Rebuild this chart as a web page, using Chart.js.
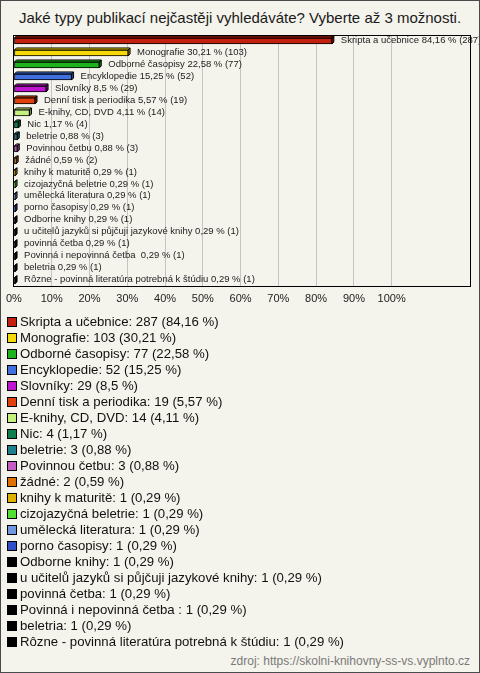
<!DOCTYPE html>
<html><head><meta charset="utf-8">
<script src="https://cdn.jsdelivr.net/npm/chart.js@4/dist/chart.umd.min.js"></script>
<style>
html,body{margin:0;padding:0;background:#f4f3ec;}
body{position:relative;width:480px;height:673px;overflow:hidden;font-family:Arial,"Liberation Sans",sans-serif;}
#border{position:absolute;left:0;top:0;width:480px;height:673px;box-sizing:border-box;border:1px solid #4a4a4a;pointer-events:none;}
#title{position:absolute;left:0;top:9px;width:480px;text-align:center;font-size:15px;color:#1a1a1a;white-space:nowrap;}
#cv{position:absolute;left:0;top:0;}
#legend{position:absolute;left:7px;top:314px;font-size:13.2px;color:#111;}
.li{height:16px;line-height:16px;white-space:nowrap;display:flex;align-items:center;}
.sw{width:8px;height:8px;border:1px solid #000;margin-right:3px;flex:none;}
#src{position:absolute;right:10px;top:654px;font-size:12px;color:#7a7a7a;white-space:nowrap;}
</style></head>
<body>
<div id="title">Jaké typy publikací nejčastěji vyhledáváte? Vyberte až 3 možnosti.</div>
<canvas id="cv" width="480" height="316"></canvas>
<div id="legend"></div>
<div id="src">zdroj: https://skolni-knihovny-ss-vs.vyplnto.cz</div>
<div id="border"></div>
<script>
const categories = [
  "Skripta a učebnice",
  "Monografie",
  "Odborné časopisy",
  "Encyklopedie",
  "Slovníky",
  "Denní tisk a periodika",
  "E-knihy, CD, DVD",
  "Nic",
  "beletrie",
  "Povinnou četbu",
  "žádné",
  "knihy k maturitě",
  "cizojazyčná beletrie",
  "umělecká literatura",
  "porno časopisy",
  "Odborne knihy",
  "u učitelů jazyků si půjčuji jazykové knihy",
  "povinná četba",
  "Povinná i nepovinná četba ",
  "beletria",
  "Rôzne - povinná literatúra potrebná k štúdiu"
];
const counts = [287,103,77,52,29,19,14,4,3,3,2,1,1,1,1,1,1,1,1,1,1];
const percents = [84.16,30.21,22.58,15.25,8.5,5.57,4.11,1.17,0.88,0.88,0.59,0.29,0.29,0.29,0.29,0.29,0.29,0.29,0.29,0.29,0.29];
const colors = ["#c3200f","#f7d90a","#1fb21f","#4070e0","#c014d0","#e0400e","#c4f07e","#0e7f4c","#1f7f8f","#c45ec4","#e07000","#e0b000","#52e032","#7098e0","#3050c8","#000000","#000000","#000000","#000000","#000000","#000000"];
const xTickMax = 100;
const xTickStep = 10;

const fmt = v => String(v).replace('.', ',');

function darken(hex, f){
  const n = parseInt(hex.slice(1),16);
  const r = Math.round(((n>>16)&255)*f), g = Math.round(((n>>8)&255)*f), b = Math.round((n&255)*f);
  return `rgb(${r},${g},${b})`;
}

const deco = {
  id:'deco',
  beforeDatasetsDraw(chart){
    const ctx = chart.ctx;
    const meta = chart.getDatasetMeta(0);
    const d = 2;
    ctx.save();
    ctx.lineWidth = 1;
    ctx.strokeStyle = '#000';
    meta.data.forEach((bar,i)=>{
      const x0 = bar.base, x1 = bar.x, h = bar.height;
      const top = bar.y - h/2, bot = bar.y + h/2;
      ctx.beginPath();
      ctx.moveTo(x0, top); ctx.lineTo(x0+d, top-d); ctx.lineTo(x1+d, top-d); ctx.lineTo(x1, top); ctx.closePath();
      ctx.fillStyle = colors[i]; ctx.fill(); ctx.stroke();
      ctx.beginPath();
      ctx.moveTo(x1, top); ctx.lineTo(x1+d, top-d); ctx.lineTo(x1+d, bot-d); ctx.lineTo(x1, bot); ctx.closePath();
      ctx.fillStyle = darken(colors[i], 0.6); ctx.fill(); ctx.stroke();
    });
    ctx.restore();
  },
  afterDatasetsDraw(chart){
    const ctx = chart.ctx, a = chart.chartArea;
    const meta = chart.getDatasetMeta(0);
    ctx.save();
    ctx.font = '9.5px Arial, "Liberation Sans", sans-serif';
    ctx.fillStyle = '#222';
    ctx.textBaseline = 'middle';
    meta.data.forEach((bar,i)=>{
      const txt = `${categories[i]} ${fmt(percents[i])} % (${counts[i]})`;
      ctx.fillText(txt, bar.x + 9, bar.y - 1);
    });
    ctx.strokeStyle = '#000';
    ctx.lineWidth = 1;
    ctx.strokeRect(Math.round(a.left)-0.5, Math.round(a.top)+0.5, Math.round(a.width), Math.round(a.height)-1);
    ctx.restore();
  }
};

new Chart(document.getElementById('cv').getContext('2d'), {
  type:'bar',
  data:{
    labels:categories,
    datasets:[{data:percents, backgroundColor:colors, borderColor:'#000', borderWidth:1, barThickness:6, borderSkipped:false}]
  },
  options:{
    indexAxis:'y',
    responsive:false,
    animation:false,
    devicePixelRatio:1,
    layout:{autoPadding:false, padding:{top:35,left:12,right:9,bottom:4}},
    plugins:{legend:{display:false}, tooltip:{enabled:false}, title:{display:false}},
    scales:{
      x:{
        min:0, max:121,
        afterBuildTicks: s => { s.ticks = s.ticks.filter(t => t.value <= xTickMax); },
        ticks:{stepSize:xTickStep, callback:v => v + '%', color:'#222', font:{size:11, family:'Arial, "Liberation Sans", sans-serif'}, padding:6, maxRotation:0, autoSkip:false},
        grid:{color:'#c4c4c4', drawTicks:false, lineWidth:1},
        border:{display:false}
      },
      y:{display:false, grid:{display:false}}
    }
  },
  plugins:[deco]
});

const lg = document.getElementById('legend');
categories.forEach((c,i)=>{
  const row = document.createElement('div');
  row.className = 'li';
  const sw = document.createElement('span');
  sw.className = 'sw';
  sw.style.background = colors[i];
  const t = document.createElement('span');
  t.textContent = `${c}: ${counts[i]} (${fmt(percents[i])} %)`;
  row.appendChild(sw); row.appendChild(t);
  lg.appendChild(row);
});
</script>
</body></html>
